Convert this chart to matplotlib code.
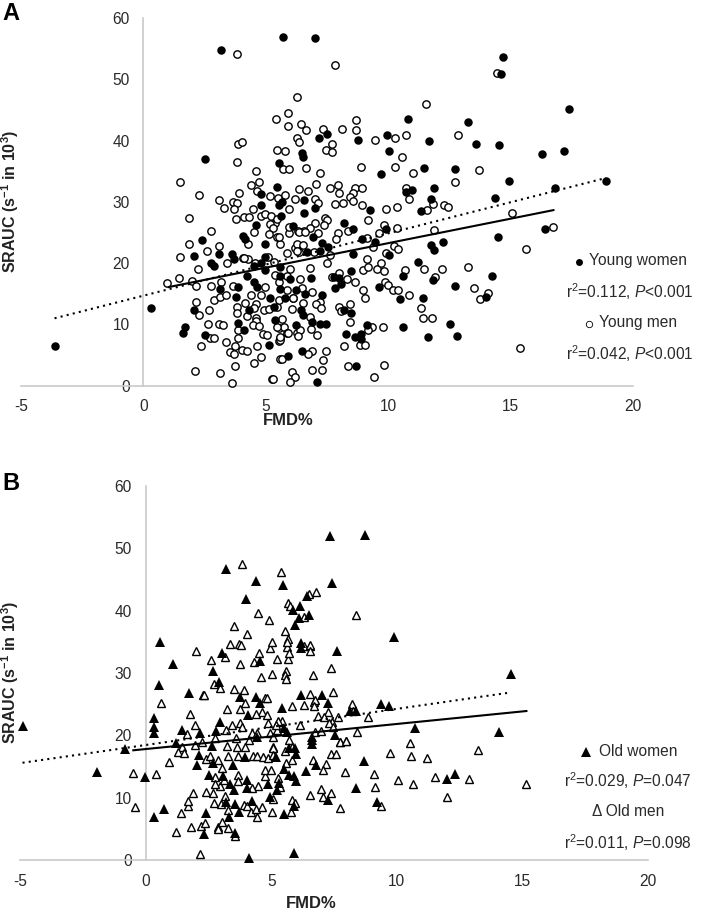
#!/usr/bin/env python3
"""Shear rate AUC against FMD% scatter panels for young and old adults."""

import matplotlib
matplotlib.use("Agg")
import matplotlib.pyplot as plt
from matplotlib.lines import Line2D

# (FMD%, SRAUC)
young_women = [
    (-3.6, 6.45), (0.33, 12.6), (3.17, 54.7), (5.71, 56.9), (7.02, 56.8), (2.52, 37.0),
    (5.52, 36.4), (5.44, 32.5), (4.8, 31.2), (4.8, 29.5), (5.52, 29.5), (4.61, 26.2),
    (4.07, 24.5), (4.15, 23.9), (2.38, 23.8), (4.98, 23.2), (2.08, 21.2), (3.1, 21.43),
    (3.62, 21.43), (3.69, 20.6), (2.78, 20.07), (2.87, 19.53), (4.23, 17.9), (4.53, 17.0),
    (4.64, 16.05), (4.98, 18.9), (4.5, 19.53), (4.82, 20.07), (4.98, 21.05), (3.88, 16.16),
    (3.14, 15.7), (3.8, 14.4), (5.18, 14.26), (5.35, 12.9), (4.3, 12.36), (2.08, 12.36),
    (1.69, 9.53), (1.62, 8.55), (2.53, 8.28), (3.85, 10.3), (4.11, 9.1), (5.39, 10.73),
    (5.14, 6.65), (7.19, 40.35), (7.52, 41.06), (8.77, 40.08), (9.96, 40.95), (10.05, 38.23),
    (6.47, 37.9), (6.54, 37.25), (9.7, 34.48), (5.66, 30.0), (6.58, 30.24), (7.03, 28.94),
    (6.55, 28.23), (5.62, 27.74), (9.26, 28.6), (8.2, 26.5), (8.55, 25.5), (6.13, 26.1),
    (6.92, 24.2), (7.29, 23.34), (7.56, 22.7), (8.92, 23.88), (9.91, 25.5), (9.47, 23.4),
    (6.68, 21.87), (7.22, 21.98), (8.55, 21.49), (10.05, 21.38), (5.59, 19.42), (5.56, 17.9),
    (6.0, 17.36), (6.84, 17.63), (7.77, 17.8), (8.01, 17.52), (8.06, 16.54), (7.83, 16.0),
    (8.49, 18.77), (9.64, 16.05), (10.49, 14.15), (5.59, 15.73), (6.24, 15.62), (6.61, 14.91),
    (7.29, 14.8), (5.79, 14.37), (6.45, 12.36), (6.51, 11.54), (6.23, 9.91), (6.87, 10.4),
    (7.22, 10.02), (7.45, 10.02), (8.2, 12.36), (8.5, 11.81), (9.13, 9.97), (8.27, 8.39),
    (8.65, 8.01), (8.89, 8.44), (8.89, 7.57), (6.49, 5.67), (5.89, 4.86), (8.69, 3.23),
    (7.08, 0.56), (14.68, 53.66), (14.61, 50.9), (10.79, 43.55), (13.28, 43.0), (11.67, 40.0),
    (13.59, 39.4), (14.52, 39.26), (16.29, 37.74), (17.17, 38.28), (17.39, 45.18), (11.47, 35.45),
    (12.71, 35.4), (14.94, 33.4), (16.8, 32.3), (18.9, 33.4), (11.89, 32.2), (10.71, 31.65),
    (10.98, 31.92), (14.37, 30.62), (11.76, 30.45), (11.33, 28.44), (16.4, 25.5), (14.48, 24.2),
    (12.23, 23.44), (11.76, 23.0), (11.88, 22.08), (11.2, 20.13), (10.6, 17.9), (14.23, 17.85),
    (11.85, 17.25), (12.71, 16.27), (11.44, 14.37), (13.99, 14.48), (12.53, 10.13), (10.6, 9.6),
    (12.8, 8.17), (11.63, 8.0),
]
young_men = [
    (3.81, 54.1), (7.81, 52.26), (6.27, 47.05), (5.89, 44.5), (5.43, 43.6), (3.85, 39.5),
    (4.01, 39.75), (3.81, 36.5), (5.47, 38.45), (4.59, 35.0), (1.51, 33.3), (2.27, 31.1),
    (3.07, 30.3), (3.31, 29.05), (3.65, 30.0), (3.82, 29.85), (3.69, 28.9), (3.92, 31.5),
    (4.41, 32.75), (4.72, 33.2), (4.65, 31.8), (5.16, 31.0), (5.48, 30.6), (1.86, 27.4),
    (3.77, 27.25), (4.12, 27.5), (4.3, 27.6), (4.48, 28.8), (4.8, 27.7), (4.98, 28.05),
    (5.21, 27.75), (5.36, 26.6), (5.16, 26.4), (5.29, 25.7), (2.78, 25.3), (4.5, 25.0),
    (5.12, 24.7), (5.47, 24.2), (1.86, 23.07), (3.07, 22.8), (4.27, 23.07), (2.6, 22.0),
    (1.48, 21.0), (2.23, 19.1), (1.47, 17.6), (0.97, 16.7), (1.97, 17.1), (2.15, 16.27),
    (2.78, 16.3), (3.17, 17.0), (3.67, 16.3), (3.4, 20.07), (4.07, 20.9), (4.27, 20.67),
    (4.98, 16.05), (4.4, 14.8), (4.8, 14.8), (2.87, 14.0), (3.12, 14.53), (3.39, 14.8),
    (2.15, 13.6), (2.26, 11.54), (2.68, 12.4), (3.84, 12.9), (3.84, 11.8), (4.16, 13.55),
    (4.61, 13.3), (4.53, 12.6), (4.91, 12.36), (5.12, 12.5), (4.23, 11.4), (4.59, 11.0),
    (4.59, 10.6), (4.48, 9.9), (4.72, 9.8), (2.63, 10.1), (3.1, 10.0), (3.25, 9.86),
    (3.85, 9.1), (4.89, 8.44), (5.05, 8.3), (2.71, 7.8), (2.87, 7.8), (2.35, 6.54),
    (3.39, 7.1), (3.86, 7.74), (3.73, 6.54), (3.55, 5.45), (3.69, 5.13), (4.03, 5.78),
    (4.25, 5.67), (4.65, 6.4), (4.82, 4.7), (4.53, 3.72), (3.74, 3.28), (2.11, 2.47),
    (3.13, 2.14), (5.25, 1.05), (3.62, 0.4), (5.46, 12.9), (5.59, 4.37), (5.9, 42.4),
    (6.43, 42.7), (6.64, 41.66), (6.27, 40.5), (6.34, 39.7), (7.32, 41.9), (8.12, 41.9),
    (8.68, 41.66), (8.68, 43.3), (9.48, 40.13), (10.28, 40.5), (5.78, 38.34), (7.44, 38.45),
    (7.7, 39.37), (7.7, 38.18), (6.64, 35.6), (5.7, 35.35), (5.93, 35.3), (7.22, 34.7),
    (8.89, 35.68), (10.28, 35.68), (7.06, 32.85), (7.64, 32.3), (7.94, 32.8), (8.0, 31.44),
    (7.81, 29.6), (8.15, 29.86), (8.65, 32.25), (8.94, 32.25), (8.58, 31.38), (8.45, 30.73),
    (8.58, 30.13), (8.94, 29.48), (9.9, 28.88), (10.35, 29.2), (9.17, 27.09), (5.79, 31.17),
    (6.2, 30.5), (6.34, 32.09), (6.72, 31.82), (6.99, 30.46), (7.13, 29.86), (5.93, 28.77),
    (7.02, 26.5), (7.42, 27.4), (7.49, 27.04), (7.36, 26.3), (6.81, 25.8), (6.31, 25.24),
    (6.58, 25.24), (5.93, 24.86), (7.13, 24.86), (7.94, 24.86), (7.87, 23.88), (6.2, 22.5),
    (8.35, 25.3), (9.13, 24.05), (9.64, 24.86), (10.35, 25.7), (5.86, 21.6), (6.34, 21.87),
    (6.95, 21.87), (7.49, 19.97), (7.63, 21.3), (6.79, 19.26), (6.0, 19.04), (5.38, 18.06),
    (5.86, 17.9), (6.4, 17.36), (9.13, 20.67), (8.99, 18.88), (9.19, 19.3), (9.53, 19.04),
    (9.71, 19.97), (9.81, 18.77), (7.72, 17.8), (7.97, 18.34), (8.31, 17.4), (8.64, 16.98),
    (9.87, 16.87), (10.0, 16.43), (10.21, 15.62), (10.42, 15.62), (8.96, 15.62), (9.06, 14.37),
    (6.88, 15.35), (6.1, 14.37), (5.52, 14.0), (6.54, 13.44), (7.22, 13.6), (7.04, 13.28),
    (6.06, 12.47), (7.25, 12.63), (5.66, 10.89), (6.81, 11.27), (8.01, 12.9), (8.45, 13.28),
    (8.06, 12.2), (8.42, 10.35), (9.33, 9.64), (9.77, 9.64), (9.19, 9.1), (5.52, 9.48),
    (5.75, 9.53), (5.86, 8.55), (6.27, 8.66), (6.85, 9.2), (7.1, 8.28), (5.59, 7.74),
    (5.55, 7.36), (8.2, 6.54), (8.85, 6.65), (9.04, 6.65), (7.45, 5.73), (6.88, 5.73),
    (6.74, 5.18), (5.66, 4.37), (7.33, 4.15), (6.09, 2.3), (6.2, 1.38), (6.88, 2.57),
    (7.28, 2.57), (8.36, 3.28), (9.81, 3.45), (9.4, 1.49), (5.29, 1.05), (6.0, 0.56),
    (6.4, 9.1), (6.31, 8.1), (10.74, 40.9), (11.54, 45.94), (12.87, 40.94), (14.46, 51.05),
    (10.55, 37.25), (11.03, 34.75), (13.7, 35.2), (12.72, 33.17), (10.74, 32.2), (10.84, 30.4),
    (11.58, 28.66), (11.81, 29.64), (12.26, 29.48), (12.44, 29.15), (9.84, 26.16), (11.88, 25.45),
    (15.06, 28.1), (16.75, 25.9), (9.36, 22.57), (10.25, 22.74), (10.38, 22.25), (9.92, 21.6),
    (15.62, 22.3), (10.69, 18.82), (11.47, 19.04), (12.19, 19.1), (13.25, 19.4), (10.83, 14.8),
    (11.92, 17.68), (13.5, 15.9), (13.76, 14.15), (14.07, 15.18), (11.35, 12.63), (11.42, 11.0),
    (11.78, 11.0), (15.39, 6.16), (5.59, 23.2), (5.93, 25.95), (6.34, 25.1), (6.61, 25.1),
    (6.27, 23.07), (6.54, 22.96), (6.27, 21.9), (5.11, 21.06), (5.32, 20.25), (4.09, 20.8),
    (4.57, 20.0), (5.52, 17.0), (6.47, 15.9), (5.86, 15.6), (6.1, 14.27), (5.45, 9.54),
    (5.59, 7.47), (5.89, 8.56), (5.59, 8.0), (5.45, 27.2), (5.52, 24.2),
]
old_women = [
    (-4.9, 21.57), (-0.81, 17.8), (-1.95, 14.14), (-0.02, 13.34), (0.35, 6.97), (0.72, 8.26),
    (7.35, 51.9), (8.74, 52.2), (3.19, 46.66), (4.39, 44.8), (5.47, 44.1), (7.44, 44.4),
    (3.99, 41.85), (6.44, 42.3), (6.15, 40.67), (5.87, 40.1), (6.51, 39.34), (6.1, 38.8),
    (5.95, 37.73), (9.87, 35.85), (14.55, 29.85), (0.58, 35.03), (1.11, 31.45), (2.69, 30.33),
    (0.53, 28.13), (1.73, 26.85), (2.93, 28.56), (3.06, 33.27), (4.54, 31.98), (0.34, 22.84),
    (0.33, 21.4), (0.33, 20.33), (1.44, 20.86), (2.17, 20.33), (2.97, 22.09), (2.8, 20.75),
    (3.77, 26.2), (4.38, 26.2), (4.07, 23.27), (4.56, 25.14), (1.2, 18.83), (2.64, 18.3),
    (4.43, 19.8), (6.17, 34.07), (6.18, 34.77), (7.62, 33.59), (6.18, 26.48), (7.02, 26.48),
    (7.26, 25.14), (5.44, 24.34), (8.15, 23.91), (8.39, 23.91), (9.38, 24.98), (9.7, 24.71),
    (5.49, 21.24), (5.62, 20.59), (7.52, 20.06), (6.62, 19.79), (6.62, 19.26), (6.62, 18.62),
    (5.69, 17.92), (5.96, 17.92), (2.04, 15.26), (2.11, 16.87), (2.7, 15.64), (3.47, 15.26),
    (2.53, 13.66), (3.1, 13.4), (3.36, 12.16), (3.5, 11.25), (4.03, 12.86), (4.03, 11.5),
    (4.86, 12.16), (5.33, 12.3), (5.22, 11.25), (5.49, 14.6), (5.69, 13.66), (5.89, 13.4),
    (5.98, 12.6), (6.39, 14.2), (6.78, 15.26), (3.19, 9.27), (3.54, 9.0), (4.23, 9.54),
    (4.96, 10.08), (2.41, 7.62), (3.31, 6.87), (3.71, 7.72), (5.51, 7.4), (5.91, 8.69),
    (7.27, 9.65), (8.36, 11.5), (2.31, 4.2), (3.56, 4.3), (4.13, 0.4), (5.89, 1.2),
    (3.96, 16.6), (5.18, 16.5), (6.0, 17.0), (10.71, 21.14), (14.07, 20.5), (8.68, 15.95),
    (12.33, 13.87), (12.01, 13.0), (9.21, 9.27),
]
old_men = [
    (3.83, 47.47), (5.38, 46.24), (5.66, 41.3), (5.75, 40.67), (6.51, 42.7), (6.78, 43.03),
    (8.36, 39.3), (4.49, 39.7), (4.92, 38.5), (3.5, 37.47), (4.03, 36.3), (5.53, 36.72),
    (6.3, 39.0), (5.65, 35.5), (6.32, 34.26), (6.55, 34.4), (2.01, 33.48), (2.6, 32.04),
    (3.37, 34.6), (3.73, 34.66), (3.79, 34.55), (3.17, 32.63), (3.75, 31.45), (4.3, 31.72),
    (4.52, 33.16), (5.23, 32.25), (4.96, 34.02), (5.05, 34.93), (4.58, 29.42), (5.05, 29.79),
    (2.74, 28.3), (2.97, 27.65), (3.5, 27.39), (3.91, 27.28), (2.28, 26.53), (2.34, 26.42),
    (0.63, 25.19), (3.26, 24.28), (3.74, 24.23), (3.96, 25.14), (4.76, 25.94), (4.83, 25.94),
    (4.63, 23.8), (4.4, 23.43), (4.83, 23.27), (1.77, 23.43), (1.97, 21.66), (1.64, 20.22),
    (3.21, 20.86), (3.43, 21.66), (3.74, 21.93), (3.83, 21.4), (4.23, 20.33), (4.43, 20.43),
    (4.89, 21.93), (4.96, 20.33), (5.29, 22.2), (3.61, 19.52), (2.77, 19.52), (4.1, 19.26),
    (3.63, 18.19), (1.44, 18.19), (3.23, 18.3), (3.96, 18.19), (5.09, 18.19), (1.97, 18.45),
    (2.24, 19.0), (5.23, 20.86), (5.65, 32.25), (5.58, 30.33), (5.56, 29.69), (5.58, 29.04),
    (6.67, 29.69), (7.4, 30.75), (6.53, 26.64), (7.48, 27.01), (6.69, 25.4), (6.75, 25.67),
    (5.82, 24.77), (6.31, 24.87), (6.71, 24.71), (8.23, 24.98), (7.26, 23.8), (6.85, 23.1),
    (7.12, 23.0), (8.84, 22.95), (7.64, 22.89), (7.44, 22.2), (7.32, 21.93), (7.48, 21.4),
    (6.13, 21.66), (5.44, 22.3), (5.28, 22.3), (5.2, 21.66), (8.41, 20.49), (6.73, 20.59),
    (6.98, 20.75), (7.99, 19.15), (7.75, 18.88), (5.69, 19.26), (5.09, 19.79), (8.25, 23.86),
    (5.62, 34.23), (5.69, 33.16), (5.62, 35.03), (6.53, 34.5), (6.55, 33.59), (5.07, 17.9),
    (5.82, 18.19), (0.95, 15.8), (-0.49, 13.93), (0.42, 13.77), (-0.43, 8.53), (1.2, 4.57),
    (1.4, 7.5), (1.7, 8.6), (1.7, 9.5), (1.9, 10.8), (1.8, 5.26), (2.2, 5.5),
    (2.38, 6.0), (2.87, 5.37), (2.87, 4.95), (3.03, 6.07), (3.3, 5.1), (3.54, 3.87),
    (2.17, 1.04), (2.41, 10.9), (2.7, 10.8), (2.73, 9.1), (3.0, 9.0), (3.16, 10.2),
    (3.3, 8.04), (3.9, 8.85), (4.03, 8.7), (4.2, 7.67), (4.43, 6.97), (4.39, 8.2),
    (4.62, 8.58), (5.02, 7.72), (5.78, 7.78), (5.82, 9.65), (5.95, 9.2), (6.55, 10.45),
    (6.98, 11.4), (7.08, 10.08), (7.37, 10.7), (7.75, 8.36), (4.49, 11.8), (4.25, 11.5),
    (5.09, 9.76), (2.77, 13.3), (2.97, 11.9), (2.77, 12.16), (3.12, 12.86), (3.03, 14.73),
    (3.66, 13.66), (3.66, 12.6), (4.76, 13.5), (4.76, 14.46), (5.0, 14.46), (5.29, 13.1),
    (5.36, 11.68), (5.59, 15.64), (5.82, 16.07), (6.66, 16.07), (7.19, 15.42), (7.08, 14.46),
    (7.94, 14.14), (7.39, 17.0), (7.59, 17.0), (3.67, 16.7), (4.29, 16.7), (4.43, 16.7),
    (4.69, 16.5), (4.89, 16.33), (2.39, 16.17), (2.57, 16.7), (2.9, 16.07), (3.28, 16.7),
    (1.3, 17.3), (1.53, 17.24), (5.09, 16.87), (5.55, 17.5), (7.75, 18.9), (7.97, 19.1),
    (10.51, 18.74), (9.72, 17.24), (10.58, 16.76), (11.2, 16.44), (13.24, 17.67), (9.11, 13.76),
    (9.15, 11.78), (10.06, 12.85), (10.65, 12.27), (11.54, 13.33), (12.89, 13.0), (15.15, 12.27),
    (12.0, 10.18), (9.38, 8.63),
]

# trend line end points
young_women_fit = [(1.04, 16.1), (16.75, 28.65)]
young_men_fit = [(-3.63, 11.0), (18.9, 33.9)]
old_women_fit = [(-0.49, 17.6), (15.16, 23.9)]
old_men_fit = [(-4.9, 15.6), (14.4, 26.8)]

x_ticks = [-5, 0, 5, 10, 15, 20]
y_ticks = [0, 10, 20, 30, 40, 50, 60]

WIDTH, HEIGHT = 709, 914
SANS = "Liberation Sans"
GRAY = "#c9c9c9"
INK = "#2a2a2a"
YLABEL = r"SRAUC (s$^{\mathbf{-1}}$ in 10$^{\mathbf{3}}$)"


def main():
    plt.rcParams["font.family"] = [SANS, "DejaVu Sans"]
    plt.rcParams["axes.unicode_minus"] = False
    plt.rcParams["mathtext.fontset"] = "custom"
    plt.rcParams["mathtext.rm"] = SANS
    plt.rcParams["mathtext.it"] = SANS + ":italic"
    plt.rcParams["mathtext.bf"] = SANS + ":bold"
    fig = plt.figure(figsize=(WIDTH / 100, HEIGHT / 100), dpi=100)

    ax = make_axes(fig, 21, 633, 18, 385.7, 13.8)
    draw_points(ax, young_men, "o", "white", 5.3, 1.0)
    draw_points(ax, young_women, "o", "black", 6.1, 0)
    draw_fit(ax, young_men_fit, (0, (1, 2)))
    draw_fit(ax, young_women_fit, "-")

    ax = make_axes(fig, 20, 648, 486, 860, 13.5)
    draw_points(ax, old_men, "^", "white", 5.9, 1.0)
    draw_points(ax, old_women, "^", "black", 7.2, 0)
    draw_fit(ax, old_men_fit, (0, (1, 2)))
    draw_fit(ax, old_women_fit, "-")

    put_text(fig, 2, 14, "A", size=17, weight="bold", ha="left", color="black")
    put_text(fig, 2, 484, "B", size=17, weight="bold", ha="left", color="black")
    put_text(fig, 288, 421, "FMD%", size=12, weight="bold", color="#222222")
    put_text(fig, 311, 903, "FMD%", size=12, weight="bold", color="#222222")
    put_text(fig, 10, 201, YLABEL, size=11.5, weight="bold", rotation=90, color="#222222")
    put_text(fig, 10, 672, YLABEL, size=11.5, weight="bold", rotation=90, color="#222222")

    put_marker(fig, 579, 262, "o", "black", 5, 0)
    put_text(fig, 638, 261, "Young women", size=11.2)
    put_text(fig, 630, 292, r"r$^{2}$=0.112, $\mathit{P}$<0.001", size=11.2)
    put_marker(fig, 589, 324, "o", "white", 4.6, 0.6)
    put_text(fig, 638, 323, "Young men", size=11.2)
    put_text(fig, 630, 354, r"r$^{2}$=0.042, $\mathit{P}$<0.001", size=11.2)

    put_marker(fig, 586, 752, "^", "black", 7.5, 0)
    put_text(fig, 638, 751, "Old women", size=11.2)
    put_text(fig, 628, 781, r"r$^{2}$=0.029, $\mathit{P}$=0.047", size=11.2)
    put_text(fig, 628, 812, "Δ Old men", size=11.2)
    put_text(fig, 628, 843, r"r$^{2}$=0.011, $\mathit{P}$=0.098", size=11.2)

    fig.savefig("out.png", dpi=100, facecolor="white")
    plt.close(fig)


def make_axes(fig, left, right, top, bottom, xpad_px):
    ax = fig.add_axes([left / WIDTH, 1 - bottom / HEIGHT,
                       (right - left) / WIDTH, (bottom - top) / HEIGHT])
    ax.set_xlim(-5, 20)
    ax.set_ylim(0, 60)
    ax.set_xticks(x_ticks)
    ax.set_yticks(y_ticks)
    ax.patch.set_alpha(0)
    for name in ["top", "right"]:
        ax.spines[name].set_visible(False)
    ax.spines["left"].set_position(("data", 0))
    for name in ["left", "bottom"]:
        ax.spines[name].set_color(GRAY)
        ax.spines[name].set_linewidth(1.2)
    ax.tick_params(axis="both", length=0, labelsize=11.2, colors=INK)
    ax.tick_params(axis="x", pad=xpad_px * 0.72)
    ax.tick_params(axis="y", pad=10)
    return ax


def draw_points(ax, points, marker, face, size, edge):
    xs, ys = zip(*points)
    ax.plot(xs, ys, linestyle="none", marker=marker, markerfacecolor=face,
            markeredgecolor="black", markersize=size, markeredgewidth=edge,
            clip_on=False, zorder=3)


def draw_fit(ax, ends, style):
    xs, ys = zip(*ends)
    ax.plot(xs, ys, color="black", linestyle=style, linewidth=1.5,
            clip_on=False, zorder=4)


def put_text(fig, x, y, text, **kwargs):
    kwargs.setdefault("ha", "center")
    kwargs.setdefault("color", INK)
    fig.text(x / WIDTH, 1 - y / HEIGHT, text, va="center", **kwargs)


def put_marker(fig, x, y, marker, face, size, edge):
    fig.add_artist(Line2D([x / WIDTH], [1 - y / HEIGHT], transform=fig.transFigure,
                          marker=marker, markerfacecolor=face, markeredgecolor="black",
                          markersize=size, markeredgewidth=edge, linestyle="none"))


if __name__ == "__main__":
    main()
